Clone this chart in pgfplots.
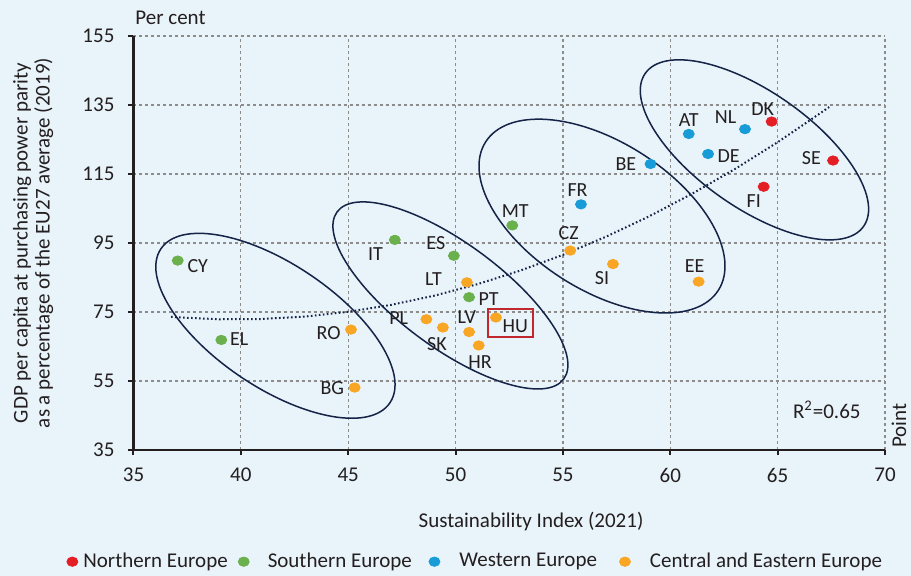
\documentclass[border=0pt]{standalone}
\usepackage{pgfplots}
\pgfplotsset{compat=1.18}
\usepackage{pgfplotstable}
\usepackage{fontspec}
\setmainfont{Carlito}
\definecolor{bg}{RGB}{233,243,250}
\definecolor{txt}{RGB}{35,31,32}
\definecolor{nred}{RGB}{227,30,36}
\definecolor{sgreen}{RGB}{106,176,76}
\definecolor{wblue}{RGB}{24,156,216}
\definecolor{corange}{RGB}{248,166,36}
\definecolor{navy}{RGB}{20,35,70}
\definecolor{gridc}{RGB}{140,140,140}
\definecolor{hubox}{RGB}{192,40,45}

\pgfplotstableread{
x y label dx dy
64.72 130.2 DK -4.5 6.3
67.58 118.9 SE -10.8 1
64.35 111.3 FI -5 -7.2
}\north
\pgfplotstableread{
x y label dx dy
37.06 89.9 CY 10 -2.5
39.09 66.9 EL 9 0.3
47.17 95.9 IT -9.7 -7.2
49.92 91.3 ES -9 6.5
50.63 79.3 PT 9.7 -0.8
52.64 100.1 MT 1.5 7.3
}\south
\pgfplotstableread{
x y label dx dy
55.84 106.2 FR -1.7 7
59.08 117.9 BE -12.3 0
60.86 126.6 AT 0 6.7
61.76 120.8 DE 10.3 -1
63.48 128.0 NL -9.7 6.2
}\west
\pgfplotstableread{
x y label dx dy
45.13 69.9 RO -11.2 -1.8
45.30 53.1 BG -11.2 -0.3
50.53 83.6 LT -16.7 1.7
48.64 72.9 PL -13.8 0.5
49.41 70.5 SK -3 -8.2
50.63 69.2 LV -1.2 7.7
51.08 65.3 HR 0.7 -8.3
51.88 73.4 HU 9.7 -4.5
55.34 92.8 CZ -0.8 8.7
57.33 88.9 SI -5.5 -7.2
61.32 83.8 EE -2 8
}\cee
\pgfplotstableread{
x y
36.75 73.6
37 73.47
39 72.89
41 72.97
43 73.69
45 75.05
47 77.06
49 79.72
51 83.02
53 86.97
55 91.56
57 96.8
59 102.68
61 109.21
63 116.39
65 124.21
67 132.68
67.4 134.4
}\trend

\newcommand{\fbig}{\fontsize{10.5}{11}\selectfont}
\newcommand{\flbl}{\fontsize{10}{11}\selectfont}
\newcommand{\gap}[1]{\rule{#1}{0pt}}

\pgfplotsset{
  pts/.style={only marks, mark=*, mark size=2.75pt,
    mark options={yscale=0.85, draw=none},
    nodes near coords, point meta=explicit symbolic,
    visualization depends on={\thisrow{dx}\as\lx},
    visualization depends on={\thisrow{dy}\as\ly},
    every node near coord/.append style={font=\flbl, text=txt, anchor=center,
      xshift=\lx pt, yshift=\ly pt, inner sep=0pt}},
}

\begin{document}
\begin{tikzpicture}
\fill[bg] (-66.75pt,-63pt) rectangle (388.75pt,225pt);
\begin{axis}[
  scale only axis, width=375.75pt, height=207pt,
  xmin=35, xmax=70, ymin=35, ymax=155,
  xtick={35,40,...,70}, ytick={35,55,...,155},
  axis x line=bottom, axis y line=left,
  axis line style={-, line width=1.2pt, color=txt},
  tick align=outside, major tick length=2.5pt,
  tick style={line width=1pt, color=txt},
  grid=major, grid style={gridc, line width=0.6pt, dash pattern=on 1.5pt off 1.5pt},
  /pgf/number format/assume math mode=true,
  ticklabel style={font=\fbig, text=txt},
  yticklabel style={xshift=-3.5pt},
  xticklabel style={yshift=-3pt},
  clip=false,
  xlabel={Sustainability Index (2021)},
  xlabel style={at={(axis description cs:0.529,-0.1732)}, anchor=center, font=\fbig, text=txt},
  ylabel={GDP per capita at purchasing power parity\\as a percentage of the EU27 average (2019)},
  ylabel style={at={(axis description cs:-0.1337,0.5)}, anchor=center, align=center, font=\fbig, text=txt},
  legend columns=4,
  legend image code/.code={\draw[#1] plot coordinates {(0pt,0pt)};},
  legend style={draw=none, fill=none, at={(axis description cs:-0.0892,-0.2698)}, anchor=west,
    inner sep=0pt, font=\fbig, text=txt, nodes={inner sep=0pt},
    /tikz/every odd column/.append style={column sep=2.75pt},
    /tikz/every even column/.append style={column sep=2.75pt}},
]
\addplot[navy, line width=1pt, dash pattern=on 0.8pt off 1.2pt, forget plot] table[x=x,y=y] {\trend};

\draw[navy, line width=0.75pt] (axis cs:41.61,71.0) circle [x radius=69pt, y radius=30.85pt, rotate=-33.9];
\draw[navy, line width=0.75pt] (axis cs:49.76,79.8) circle [x radius=70.4pt, y radius=26.1pt, rotate=-36.4];
\draw[navy, line width=0.75pt] (axis cs:56.82,102.8) circle [x radius=69pt, y radius=37pt, rotate=-32.5];
\draw[navy, line width=0.75pt] (axis cs:63.92,122.0) circle [x radius=66.65pt, y radius=29pt, rotate=-35];

\draw[hubox, line width=0.8pt] (axis cs:51.5,67.7) rectangle (axis cs:53.6,75.8);

\addplot[pts, color=nred] table[x=x, y=y, meta=label] {\north};
\addplot[pts, color=sgreen] table[x=x, y=y, meta=label] {\south};
\addplot[pts, color=wblue] table[x=x, y=y, meta=label] {\west};
\addplot[pts, color=corange] table[x=x, y=y, meta=label] {\cee};
\legend{Northern Europe\gap{2.5pt}, \gap{6.5pt}Southern Europe\gap{5.75pt}, \gap{7pt}Western Europe\gap{8.5pt}, \gap{7pt}Central and Eastern Europe}

\node[anchor=base west, inner sep=0pt, font=\fbig, text=txt] at (axis cs:35.07,158.39) {Per cent};
\node[anchor=base west, inner sep=0pt, rotate=90, font=\fbig, text=txt] at (axis cs:70.98,35.5) {Point};
\node[font=\fbig, text=txt] at (axis cs:67.29,46.6) {R\textsuperscript{2}=0.65};
\end{axis}
\pgfresetboundingbox
\path[use as bounding box] (-66.75pt,-63pt) rectangle (388.75pt,225pt);
\end{tikzpicture}
\end{document}
